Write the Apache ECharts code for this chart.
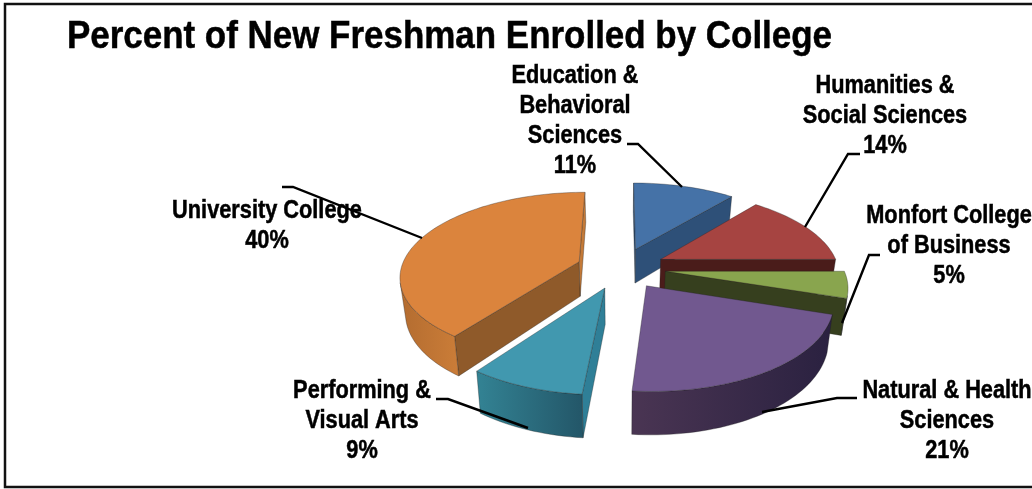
<!DOCTYPE html>
<html>
<head>
<meta charset="utf-8">
<style>
  html, body { margin: 0; padding: 0; background: #fff; }
  #main { width: 1032px; height: 489px; }
</style>
<script src="https://cdn.jsdelivr.net/npm/echarts@6/dist/echarts.min.js"></script>
</head>
<body>
<div id="main"></div>
<script>
// values, clockwise from 12 o'clock
var chartTitle = 'Percent of New Freshman Enrolled by College'
var labelLines = [
  ['Education &', 'Behavioral', 'Sciences'],
  ['Humanities &', 'Social Sciences'],
  ['Monfort College', 'of Business'],
  ['Natural & Health', 'Sciences'],
  ['Performing &', 'Visual Arts'],
  ['University College']
]
// labels print these rounded, the decimals are estimated from the slice edges
var percents = [11, 14, 5, 21.4, 8.6, 40]

// styles, same order as percents
var topColors = ['#4572a7', '#a64441', '#89a54e', '#71588f', '#4198af', '#db843d']
var startEdgeColors = ['#2e5078', '#4a1c1a', '#363f1e', '#3a2c4c', '#2f7f97', '#8f5a2a']
var endEdgeColors = ['#2e5078', '#4a1c1a', '#363f1e', '#3a2c4c', '#2f7f97', '#c47a38']
var wallLeftColors = ['#2e5078', '#4a1c1a', '#363f1e', '#4a3553', '#338394', '#b36c30']
var wallRightColors = ['#2e5078', '#4a1c1a', '#363f1e', '#2a2140', '#235668', '#cb7d38']

// far slices get painted first
var drawOrder = [0, 1, 2, 5, 4, 3]

// tilted pie projection
var cx = 621
var cy = 268
var radius = 178
var tilt = 0.463
var perspective = 0.16
var thickness = 35
var explode = 0.25

// label centres, first line
var labelX = [575, 885, 949, 947, 362, 267]
var labelY = [76.5, 86.5, 216.5, 391.5, 391.5, 211.5]
var labelLineGap = 30
var labelScale = 0.87
var labelFont = 'bold 25px "Liberation Sans", Arial, sans-serif'

// leader lines
var leaders = [
  [[627, 144], [638, 144], [682, 187]],
  [[860, 154], [848, 154], [805, 227]],
  [[880, 255], [869, 255], [842, 323]],
  [[857, 398], [837, 398], [762, 412]],
  [[436, 399], [448, 399], [528, 428]],
  [[282, 187], [293, 187], [422, 238]]
]

var startAngles = []
var endAngles = []
var total = percents.reduce(function(a, b) { return a + b }, 0)
var running = 0
percents.forEach(function(p) {
  startAngles.push(running / total * Math.PI * 2)
  running += p
  endAngles.push(running / total * Math.PI * 2)
})

function project(u, v, bottom) {
  var s = 1 / (1 - perspective * v)
  var x = cx + radius * u * s
  var y = cy + radius * tilt * v * s
  if (bottom) {
    x = cx + (x - cx) * 0.975
    y += thickness * s
  }
  return [x, y]
}

function area(pts) {
  var sum = 0
  for (var i = 0; i < pts.length; i++) {
    var a = pts[i]
    var b = pts[(i + 1) % pts.length]
    sum += a[0] * b[1] - b[0] * a[1]
  }
  return sum / 2
}

function poly(points, fill) {
  return {
    type: 'polygon',
    shape: { points: points },
    style: { fill: fill, stroke: 'rgba(30,30,30,0.55)', lineWidth: 0.6 }
  }
}

function renderSlice(params, api) {
  var i = api.value(0)
  var a0 = startAngles[i]
  var a1 = endAngles[i]
  var mid = (a0 + a1) / 2
  var ox = Math.sin(mid) * explode
  var oy = -Math.cos(mid) * explode
  var steps = Math.max(8, Math.round((a1 - a0) / 0.03))

  var arcTop = []
  var arcBottom = []
  for (var k = 0; k <= steps; k++) {
    var a = a0 + (a1 - a0) * k / steps
    var u = ox + Math.sin(a)
    var v = oy - Math.cos(a)
    arcTop.push(project(u, v, false))
    arcBottom.push(project(u, v, true))
  }
  var apexTop = project(ox, oy, false)
  var apexBottom = project(ox, oy, true)
  var children = []

  var quadStart = [apexTop, arcTop[0], arcBottom[0], apexBottom]
  if (area(quadStart) < 0) children.push(poly(quadStart, startEdgeColors[i]))
  var quadEnd = [arcTop[steps], apexTop, apexBottom, arcBottom[steps]]
  if (area(quadEnd) < 0) children.push(poly(quadEnd, endEdgeColors[i]))

  // only the part of the rim facing the viewer
  var rimTop = []
  var rimBottom = []
  for (var j = 0; j < steps; j++) {
    var q = [arcTop[j], arcTop[j + 1], arcBottom[j + 1], arcBottom[j]]
    if (area(q) < 0) {
      if (!rimTop.length) {
        rimTop.push(arcTop[j])
        rimBottom.push(arcBottom[j])
      }
      rimTop.push(arcTop[j + 1])
      rimBottom.push(arcBottom[j + 1])
    }
  }
  if (rimTop.length) {
    var gradient = new echarts.graphic.LinearGradient(0, 0, 1, 0, [
      { offset: 0, color: wallLeftColors[i] },
      { offset: 1, color: wallRightColors[i] }
    ])
    children.push(poly(rimTop.concat(rimBottom.slice().reverse()), gradient))
  }

  children.push(poly([apexTop].concat(arcTop), topColors[i]))
  return { type: 'group', children: children }
}

var graphics = []

// frame, open on the right where the picture is cut off
graphics.push({
  type: 'polyline',
  z: 1,
  shape: { points: [[1032, 4], [5, 4], [5, 487], [1032, 487]] },
  style: { stroke: '#111', lineWidth: 2.5, fill: null }
})

leaders.forEach(function(pts) {
  graphics.push({
    type: 'polyline',
    z: 20,
    shape: { points: pts },
    style: { stroke: '#000', lineWidth: 2.4, fill: null }
  })
})

function addText(text, x, y, font, scale) {
  graphics.push({
    type: 'text',
    z: 30,
    x: x,
    y: y,
    scaleX: scale,
    style: {
      text: text,
      font: font,
      fill: '#000',
      stroke: '#000',
      lineWidth: 0.5,
      textAlign: 'center',
      textVerticalAlign: 'middle'
    }
  })
}

addText(chartTitle, 449.5, 37, 'bold 39px "Liberation Sans", Arial, sans-serif', 0.896)

labelLines.forEach(function(lines, i) {
  lines.concat([Math.round(percents[i]) + '%']).forEach(function(line, n) {
    addText(line, labelX[i], labelY[i] + n * labelLineGap, labelFont, labelScale)
  })
})

var myChart = echarts.init(document.getElementById('main'))
var option = {
  animation: false,
  backgroundColor: '#fff',
  graphic: graphics,
  series: [
    {
      type: 'custom',
      coordinateSystem: 'none',
      z: 5,
      renderItem: renderSlice,
      data: drawOrder.map(function(i) {
        return [i, percents[i]]
      })
    }
  ]
}
myChart.setOption(option)
</script>
</body>
</html>
